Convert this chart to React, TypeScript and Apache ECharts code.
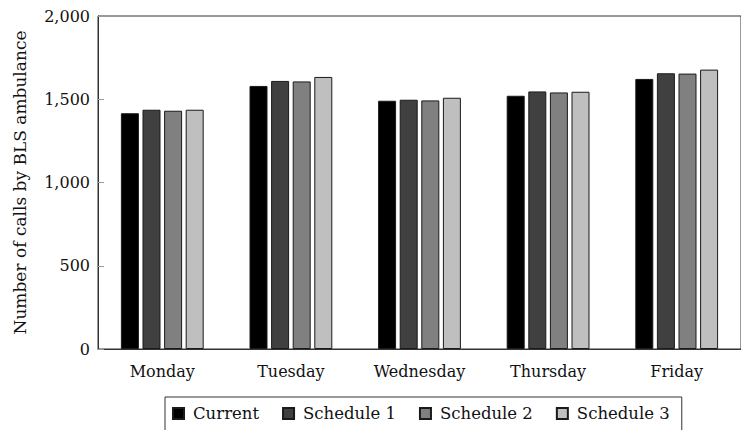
import React, { useEffect, useRef } from "react";
import * as echarts from "echarts";

const days = ["Monday", "Tuesday", "Wednesday", "Thursday", "Friday"];
const seriesNames = ["Current", "Schedule 1", "Schedule 2", "Schedule 3"];
const current = [1416, 1580, 1491, 1521, 1622];
const schedule1 = [1437, 1610, 1497, 1547, 1656];
const schedule2 = [1431, 1607, 1493, 1541, 1654];
const schedule3 = [1437, 1634, 1509, 1545, 1678];
const fills = ["#000000", "#404040", "#808080", "#bfbfbf"];

const FONT = "DejaVu Serif";

export default function App() {
  const ref = useRef<HTMLDivElement>(null);
  useEffect(() => {
    if (!ref.current) return;
    const chart = echarts.init(ref.current, null, { renderer: "svg" });
    const values = [current, schedule1, schedule2, schedule3];
    chart.setOption({
      animation: false,
      backgroundColor: "#ffffff",
      textStyle: { fontFamily: FONT },
      grid: {
        left: 98,
        top: 16,
        width: 652.5,
        height: 333,
        show: true,
        borderColor: "#333",
        borderWidth: 1,
        backgroundColor: "transparent",
      },
      legend: {
        data: seriesNames,
        left: 165,
        top: 397,
        padding: [8, 12, 14, 7],
        borderColor: "#333",
        borderWidth: 1,
        itemGap: 23,
        itemWidth: 11,
        itemHeight: 11,
        icon: "rect",
        textStyle: {
          fontFamily: FONT,
          fontSize: 16.5,
          color: "#111",
          padding: [0, 0, 0, 4],
        },
      },
      xAxis: {
        type: "category",
        data: days,
        axisLine: { show: true, lineStyle: { color: "#333", width: 1 } },
        axisTick: { show: false },
        axisLabel: { fontFamily: FONT, fontSize: 16, color: "#111", margin: 14 },
      },
      yAxis: {
        type: "value",
        min: 0,
        max: 2000,
        interval: 500,
        name: "Number of calls by BLS ambulance",
        nameLocation: "middle",
        nameGap: 70,
        nameTextStyle: { fontFamily: FONT, fontSize: 17, color: "#111" },
        axisLine: { show: true, lineStyle: { color: "#333", width: 1 } },
        axisTick: { show: true, inside: true, length: 6, lineStyle: { color: "#999" } },
        splitLine: { show: false },
        axisLabel: {
          fontFamily: FONT,
          fontSize: 16,
          color: "#111",
          margin: 8,
          formatter: (v: number) => v.toLocaleString("en-US"),
        },
      },
      series: seriesNames.map((name, i) => ({
        name,
        type: "bar",
        data: values[i],
        barWidth: 18,
        barGap: "20%",
        itemStyle: { color: fills[i], borderColor: "#1a1a1a", borderWidth: 1 },
      })),
    });
    return () => chart.dispose();
  }, []);
  return (
    <div
      ref={ref}
      style={{ position: "absolute", left: 0, top: 0, width: 741, height: 430 }}
    />
  );
}
